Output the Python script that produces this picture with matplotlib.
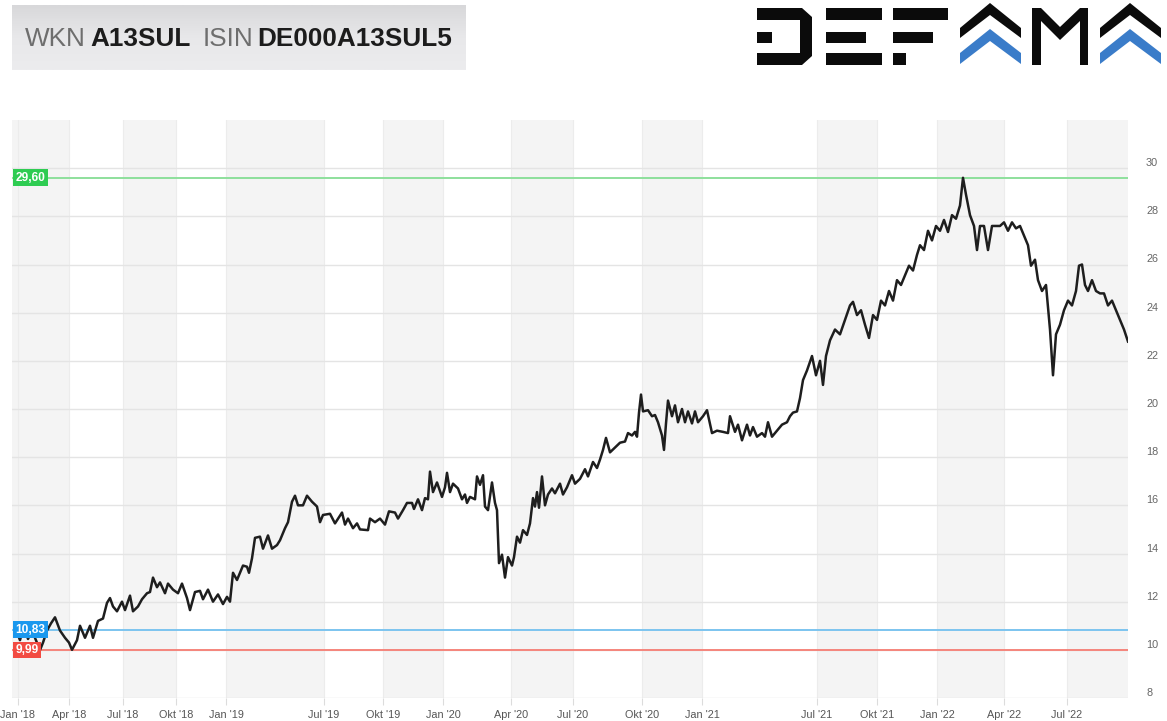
import numpy as np
import matplotlib.pyplot as plt
from matplotlib.colors import LinearSegmentedColormap
from matplotlib.patches import Polygon
from matplotlib.transforms import ScaledTranslation, blended_transform_factory

plt.rcParams['font.family'] = ['Liberation Sans', 'DejaVu Sans']

# price history (x = trading session number, y = price in EUR)
sessions = [4, 8, 12, 16, 20, 24, 28, 31, 35, 39, 43, 48, 53, 57, 60, 65, 68, 73, 78, 81,
            86, 91, 95, 98, 101, 105, 110, 113, 118, 121, 126, 130, 135, 138, 141, 145, 148, 153, 156, 161,
            166, 170, 175, 178, 183, 188, 191, 196, 201, 206, 211, 215, 218, 221, 225, 228, 231, 235, 237, 240,
            243, 248, 251, 256, 260, 265, 268, 273, 276, 280, 283, 286, 291, 295, 300, 305, 308, 311, 318, 323,
            330, 333, 336, 341, 345, 348, 356, 358, 363, 368, 373, 377, 383, 386, 391, 395, 400, 402, 406, 410,
            413, 416, 418, 421, 425, 430, 433, 435, 438, 441, 446, 450, 453, 455, 458, 463, 465, 468, 471, 473,
            476, 480, 483, 485, 487, 490, 493, 496, 500, 502, 505, 508, 511, 515, 518, 521, 523, 525, 527, 530,
            533, 536, 540, 543, 548, 551, 555, 560, 563, 568, 573, 576, 581, 585, 588, 591, 594, 598, 603, 608,
            613, 616, 620, 623, 625, 627, 629, 631, 636, 640, 643, 646, 650, 652, 654, 656, 660, 663, 666, 670,
            673, 676, 680, 683, 686, 691, 695, 700, 705, 711, 716, 718, 723, 726, 730, 735, 738, 741, 745, 750,
            753, 756, 760, 765, 770, 775, 778, 781, 785, 788, 791, 795, 800, 804, 808, 811, 814, 818, 823, 828,
            833, 838, 841, 845, 849, 853, 857, 861, 865, 869, 873, 877, 881, 885, 889, 893, 897, 901, 905, 908,
            912, 916, 920, 924, 928, 932, 936, 940, 944, 948, 951, 954, 958, 962, 965, 968, 972, 976, 980, 984,
            988, 992, 996, 1000, 1004, 1008, 1012, 1016, 1019, 1023, 1026, 1030, 1034, 1038, 1041, 1044, 1048, 1052, 1056, 1060,
            1064, 1067, 1070, 1073, 1076, 1080, 1084, 1088, 1092, 1096, 1100, 1104, 1108, 1112, 1116]
prices = [10.83, 10.4, 11.0, 10.45, 10.8, 10.4, 9.99, 10.3, 10.8, 11.1, 11.35, 10.8, 10.5, 10.3, 10.0, 10.4, 11.0, 10.5, 11.0, 10.5,
          11.2, 11.3, 11.95, 12.15, 11.8, 11.6, 12.0, 11.65, 12.25, 11.6, 11.8, 12.1, 12.35, 12.4, 13.0, 12.6, 12.8, 12.35, 12.75, 12.5,
          12.35, 12.75, 12.15, 11.65, 12.4, 12.45, 12.1, 12.5, 12.0, 12.3, 11.9, 12.2, 12.0, 13.2, 12.9, 13.2, 13.5, 13.45, 13.2, 13.8,
          14.65, 14.7, 14.2, 14.75, 14.2, 14.35, 14.55, 15.05, 15.3, 16.15, 16.4, 16.0, 16.0, 16.4, 16.15, 15.95, 15.3, 15.6, 15.65, 15.25,
          15.7, 15.2, 15.45, 15.05, 15.25, 15.0, 14.97, 15.45, 15.3, 15.45, 15.2, 15.75, 15.7, 15.45, 15.8, 16.1, 16.1, 15.85, 16.25, 15.8,
          16.3, 16.25, 17.4, 16.55, 16.95, 16.35, 16.75, 17.35, 16.55, 16.9, 16.7, 16.25, 16.45, 16.1, 16.35, 16.25, 17.2, 16.85, 17.25, 15.95,
          15.8, 16.95, 16.1, 15.8, 13.6, 13.95, 13.0, 13.85, 13.5, 13.85, 14.7, 14.45, 14.97, 14.77, 15.25, 16.3, 15.95, 16.55, 15.9, 17.2,
          16.0, 16.45, 16.7, 16.5, 16.9, 16.45, 16.75, 17.25, 16.9, 17.1, 17.5, 17.2, 17.8, 17.55, 17.9, 18.3, 18.8, 18.2, 18.4, 18.6,
          18.65, 19.0, 18.9, 19.05, 18.85, 19.85, 20.6, 19.9, 19.95, 19.7, 19.75, 19.45, 18.9, 18.3, 19.4, 20.35, 19.7, 20.15, 19.45, 20.0,
          19.45, 19.9, 19.4, 19.9, 19.45, 19.7, 19.95, 19.0, 19.1, 19.05, 19.0, 19.7, 19.05, 19.35, 18.7, 19.35, 18.9, 19.25, 18.85, 19.0,
          18.85, 19.45, 18.85, 19.1, 19.35, 19.45, 19.7, 19.85, 19.9, 20.45, 21.2, 21.6, 22.2, 21.4, 22.0, 21.0, 22.2, 22.85, 23.3, 23.1,
          23.7, 24.3, 24.45, 23.9, 24.1, 23.5, 22.95, 23.9, 23.7, 24.5, 24.3, 24.9, 24.5, 25.35, 25.15, 25.55, 25.95, 25.75, 26.4, 26.8,
          26.6, 27.4, 27.0, 27.6, 27.4, 27.85, 27.35, 28.05, 27.9, 28.45, 29.6, 28.9, 28.05, 27.6, 26.6, 27.6, 27.6, 26.6, 27.6, 27.6,
          27.6, 27.75, 27.4, 27.75, 27.5, 27.6, 27.2, 26.8, 25.95, 26.2, 25.35, 24.9, 25.15, 23.3, 21.4, 23.1, 23.5, 24.1, 24.5, 24.3,
          24.9, 25.95, 26.0, 25.15, 24.9, 25.35, 24.9, 24.8, 24.8, 24.3, 24.5, 24.1, 23.7, 23.3, 22.8]

# x axis ticks and shaded periods
tick_pos = [6, 57, 111, 164, 214, 312, 371, 431, 499, 561, 630, 690, 805, 865, 925, 992, 1055]
tick_labels = ["Jan '18", "Apr '18", "Jul '18", "Okt '18", "Jan '19", "Jul '19", "Okt '19", "Jan '20",
               "Apr '20", "Jul '20", "Okt '20", "Jan '21", "Jul '21", "Okt '21", "Jan '22", "Apr '22", "Jul '22"]
band_start = [0, 111, 214, 371, 499, 630, 805, 925, 1055]
band_end = [57, 164, 312, 431, 561, 690, 865, 992, 1116]

# reference levels: high, first, low
level_values = [29.60, 10.83, 9.99]
level_labels = ['29,60', '10,83', '9,99']
level_box = ['#2ecc52', '#1a98ee', '#f24b42']
level_line = ['#8ee09c', '#7cc4ef', '#f5857c']

W, H = 1167, 721
fig = plt.figure(figsize=(W / 100, H / 100), dpi=100)

# decoration layer in pixel units (header box + logo)
deco = fig.add_axes([0, 0, 1, 1])
deco.axis('off')
grad = np.linspace(0, 1, 60).reshape(-1, 1)
deco.imshow(grad, extent=[12, 466, 70, 5], aspect='auto',
            cmap=LinearSegmentedColormap.from_list('g', ['#d8d8da', '#e8e8ea', '#ececee']))
deco.set_xlim(0, W)
deco.set_ylim(H, 0)

hdr = [("WKN", 25, 'normal', '#6e6e6e'), ("A13SUL", 90, 'bold', '#1c1c1c'),
       ("ISIN", 203, 'normal', '#6e6e6e'), ("DE000A13SUL5", 257, 'bold', '#1c1c1c')]
for txt, hx, wt, col in hdr:
    deco.text(hx, 46, txt, fontsize=18.8, fontweight=wt, color=col, va='baseline', ha='left')

# DEFAMA logo
black, blue = '#0b0b0b', '#3a7cc9'
logo_shapes = [
    ([(757, 8), (802, 8), (812, 17), (812, 56), (802, 65), (757, 65), (757, 53), (800, 53), (800, 20), (757, 20)], black),
    ([(757, 32), (772, 32), (772, 43), (757, 43)], black),
    ([(826, 8), (882, 8), (882, 20), (826, 20)], black),
    ([(826, 32), (866, 32), (866, 43), (826, 43)], black),
    ([(826, 53), (882, 53), (882, 65), (826, 65)], black),
    ([(893, 8), (948, 8), (948, 20), (893, 20)], black),
    ([(893, 32), (933, 32), (933, 43), (893, 43)], black),
    ([(893, 53), (906, 53), (906, 65), (893, 65)], black),
    ([(1032, 8), (1041, 8), (1041, 65), (1032, 65)], black),
    ([(1080, 8), (1088, 8), (1088, 65), (1080, 65)], black),
    ([(1041, 8), (1060, 27), (1080, 8), (1080, 21), (1060, 40), (1041, 21)], black),
]
for ax0 in (990, 1130):
    logo_shapes.append(([(ax0 - 30, 28), (ax0, 3), (ax0 + 31, 28), (ax0 + 31, 38), (ax0, 15), (ax0 - 30, 38)], black))
    logo_shapes.append(([(ax0 - 30, 53), (ax0, 29), (ax0 + 31, 53), (ax0 + 31, 64), (ax0, 41), (ax0 - 30, 64)], blue))
for pts, col in logo_shapes:
    deco.add_patch(Polygon(pts, closed=True, fc=col, ec='none'))

# main chart
ax = fig.add_axes([12 / W, 23 / H, 1116 / W, 578 / H])
ax.set_facecolor('white')
for s, e in zip(band_start, band_end):
    ax.axvspan(s, e, color='#f4f4f4', lw=0, zorder=0)

for v, lab, bc, lc in zip(level_values, level_labels, level_box, level_line):
    ax.axhline(v, color=lc, lw=1.4, zorder=2)
    ax.text(0.003, v, lab, transform=blended_transform_factory(ax.transAxes, ax.transData),
            ha='left', va='center', fontsize=8.6, fontweight='bold', color='white', zorder=5,
            bbox=dict(boxstyle='square,pad=0.2', fc=bc, ec='none'))

ax.plot(sessions, prices, color='#1e1e1e', lw=1.8, zorder=3)

ax.set_xlim(0, 1116)
ax.set_ylim(8, 32)
ax.set_yticks(np.arange(8, 31, 2))
ax.yaxis.tick_right()
ax.grid(axis='y', color='#e4e4e4', lw=1, zorder=1)
ax.set_xticks(tick_pos)
ax.set_xticklabels(tick_labels)
for x in tick_pos:
    ax.axvline(x, color='#ececec', lw=0.8, zorder=0.5)
ax.set_axisbelow(True)
for sp in ax.spines.values():
    sp.set_visible(False)
ax.tick_params(axis='x', length=5, color='#dcdcdc', labelsize=7.8, labelcolor='#555555', pad=4)
ax.tick_params(axis='y', length=0, labelsize=7.8, labelcolor='#666666', pad=13)
for lab in ax.get_yticklabels():
    lab.set_transform(lab.get_transform() + ScaledTranslation(0, 6 / 100, fig.dpi_scale_trans))

plt.savefig('out.png', dpi=100)
